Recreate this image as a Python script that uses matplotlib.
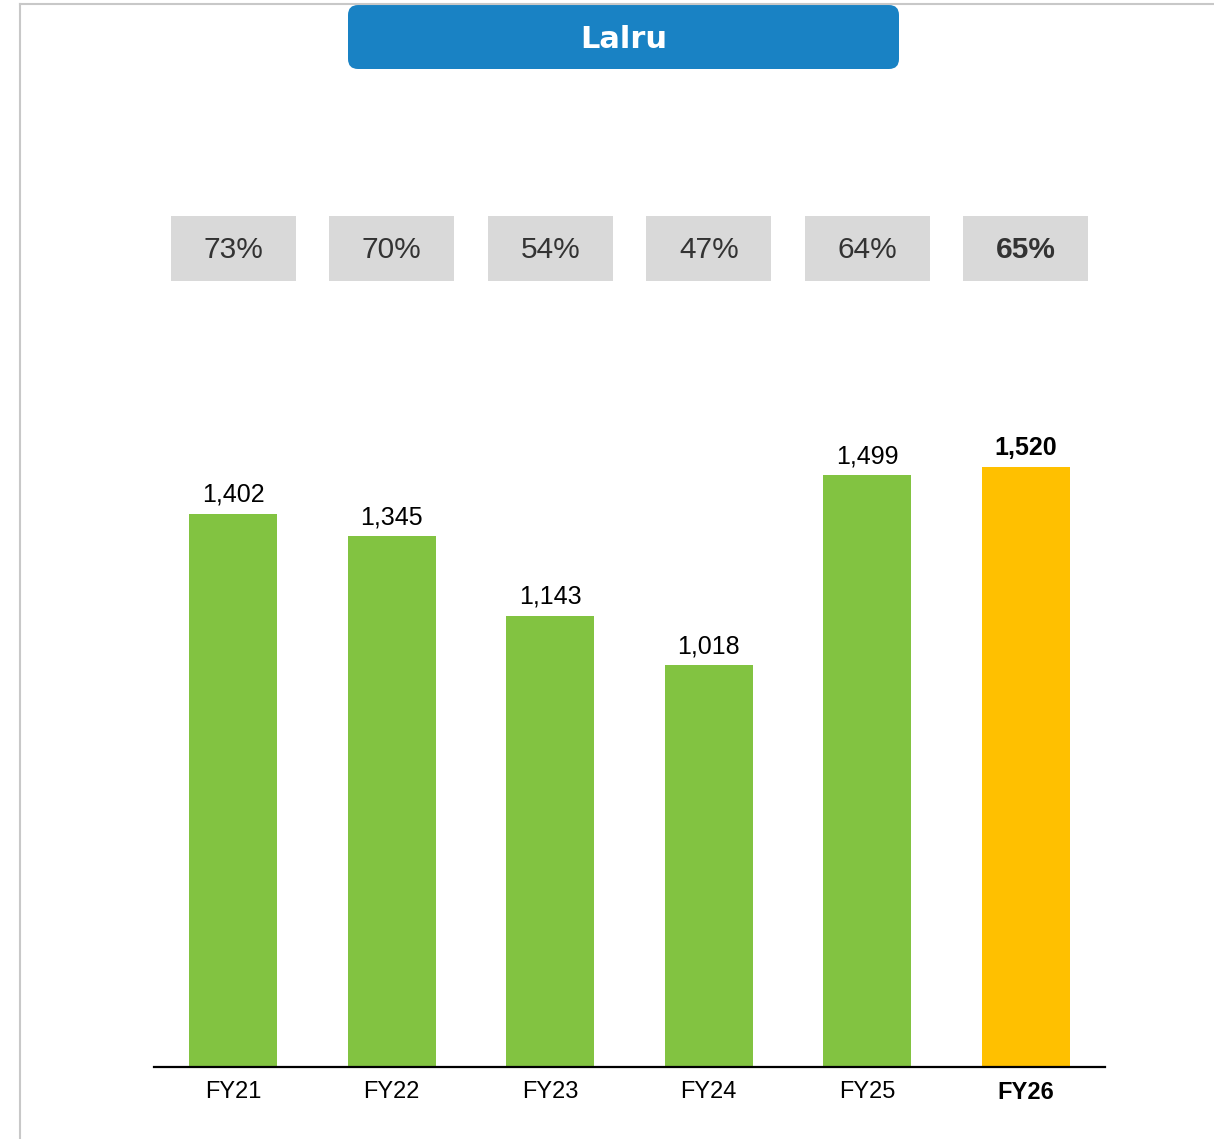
import matplotlib.pyplot as plt
import numpy as np
from matplotlib.patches import Rectangle, FancyBboxPatch
from matplotlib.lines import Line2D
from matplotlib.transforms import blended_transform_factory

titulo = 'Lalru'
anos = ['FY21', 'FY22', 'FY23', 'FY24', 'FY25', 'FY26']
valores = [1402, 1345, 1143, 1018, 1499, 1520]
percentuais = ['73%', '70%', '54%', '47%', '64%', '65%']

verde = '#82c341'
amarelo = '#ffc000'

plt.rcParams['font.family'] = ['Liberation Sans', 'DejaVu Sans']

fig = plt.figure(figsize=(12.14, 11.39), dpi=100)
fig.patch.set_facecolor('white')

# moldura cinza (topo e esquerda)
fig.add_artist(Line2D([20/1214, 1], [1 - 4/1139, 1 - 4/1139], transform=fig.transFigure,
                      color='#c8c8c8', lw=1.5))
fig.add_artist(Line2D([20/1214, 20/1214], [0, 1 - 4/1139], transform=fig.transFigure,
                      color='#c8c8c8', lw=1.5))

# caixa do titulo
caixa = FancyBboxPatch((3.48, 10.70), 5.51, 0.64, boxstyle='round,pad=0,rounding_size=0.1',
                       transform=fig.dpi_scale_trans, facecolor='#1982c4', edgecolor='none')
fig.add_artist(caixa)
fig.text(6.235 / 12.14, 11.00 / 11.39, titulo, color='white', fontsize=22, fontweight='bold',
         family='DejaVu Sans', ha='center', va='center')

ax = fig.add_axes([154/1214, 1 - 1067/1139, 951/1214, 767/1139])
x = np.arange(len(anos))
cores = [verde] * (len(anos) - 1) + [amarelo]
ax.bar(x, valores, width=0.555, color=cores)

escala = 600 / 1520
ax.set_xlim(-0.5, len(anos) - 0.5)
ax.set_ylim(0, 767 / escala)

for s in ['top', 'right', 'left']:
    ax.spines[s].set_visible(False)
ax.spines['bottom'].set_linewidth(1.6)
ax.spines['bottom'].set_color('black')
ax.set_yticks([])
ax.set_xticks(x)
ax.set_xticklabels(anos, fontsize=17)
ax.tick_params(axis='x', length=0, pad=10)
ax.get_xticklabels()[-1].set_fontweight('bold')

for i, v in enumerate(valores):
    peso = 'bold' if i == len(valores) - 1 else 'normal'
    ax.annotate(f'{v:,}', (x[i], v), xytext=(0, 5), textcoords='offset points',
                ha='center', va='bottom', fontsize=18, fontweight=peso, color='black')

# caixas de percentual
trans = blended_transform_factory(ax.transData, fig.transFigure)
larg = 125 / 158.6
y0 = 1 - 281 / 1139
alt = 65 / 1139
for i, p in enumerate(percentuais):
    ax.add_patch(Rectangle((x[i] - larg / 2, y0), larg, alt, transform=trans,
                           facecolor='#d9d9d9', edgecolor='none', clip_on=False))
    peso = 'bold' if i == len(percentuais) - 1 else 'normal'
    ax.text(x[i], y0 + alt / 2 - 0.001, p, transform=trans, ha='center', va='center',
            fontsize=21.5, fontweight=peso, color='#333333')

plt.savefig('out.png', dpi=100)
